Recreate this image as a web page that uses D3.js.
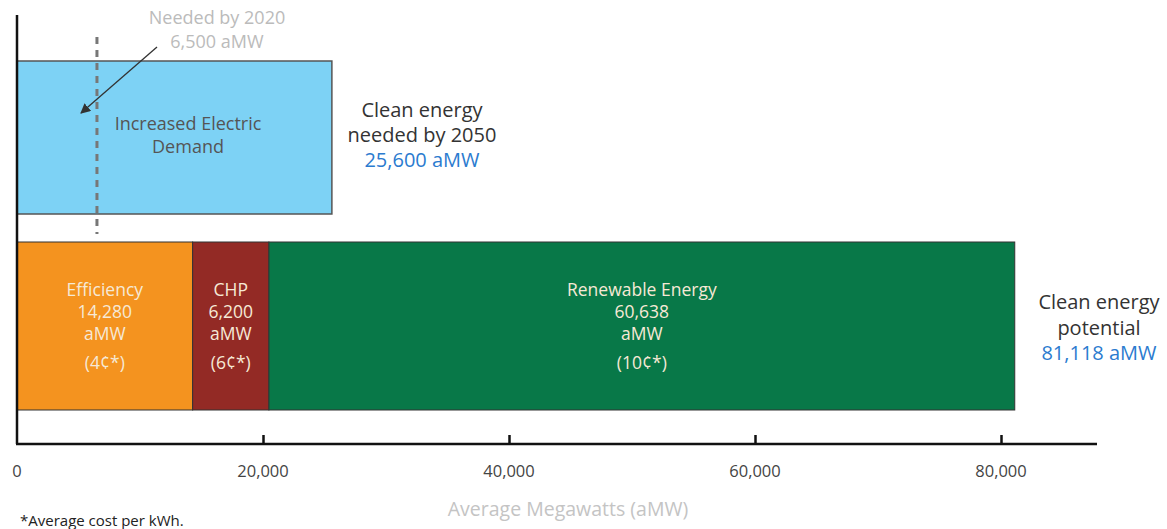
<!DOCTYPE html>
<html><head><meta charset="utf-8">
<script src="https://cdn.jsdelivr.net/npm/d3@7"></script>
<style>body{margin:0;background:#fff}svg{display:block;font-family:"Open Sans",Lato,sans-serif}</style>
</head><body><svg id="c" width="1167" height="529"></svg>
<script>
const demandValue = 25600;
const neededBy2020 = 6500;
const segments = ["Efficiency", "CHP", "Renewable Energy"];
const segmentValues = [14280, 6200, 60638];
const segmentCosts = ["(4¢*)", "(6¢*)", "(10¢*)"];
const segmentColors = ["#f4931f", "#932a25", "#087848"];
const tickValues = [20000, 40000, 60000, 80000];
const tickLabels = ["0", "20,000", "40,000", "60,000", "80,000"];
const rows = ["demand", "potential"];

const svg = d3.select("#c");
const x = d3.scaleLinear().domain([0, 80000]).range([17, 1001]);
const y = d3.scaleBand().domain(rows).range([61, 410]).paddingInner(0.17);
const fmt = d3.format(",");

// demand bar
svg.append("rect").attr("x", x(0)).attr("y", y("demand")).attr("width", x(demandValue) - x(0))
  .attr("height", 153).attr("fill", "#7dd2f5").attr("stroke", "#555").attr("stroke-width", 1.5);

// stacked potential bar
let cum = 0;
const stack = segmentValues.map((v, i) => { const s = {name: segments[i], v, x0: cum, x1: cum + v, cost: segmentCosts[i], color: segmentColors[i]}; cum += v; return s; });
const py0 = 242, ph = 410 - py0;
svg.selectAll("rect.seg").data(stack).join("rect").attr("class", "seg")
  .attr("x", d => x(d.x0)).attr("y", py0).attr("width", d => x(d.x1) - x(d.x0)).attr("height", ph)
  .attr("fill", d => d.color).attr("stroke", "#333").attr("stroke-width", 1);

const segText = svg.selectAll("g.st").data(stack).join("g").attr("class", "st")
  .attr("transform", d => `translate(${(x(d.x0) + x(d.x1)) / 2},0)`)
  .attr("fill", "#f6e9d6").attr("font-size", 17.5).attr("text-anchor", "middle");
segText.append("text").attr("y", 296).text(d => d.name);
segText.append("text").attr("y", 318).text(d => fmt(d.v));
segText.append("text").attr("y", 340).text("aMW");
segText.append("text").attr("y", 369).text(d => d.cost);

// dashed line for 2020
svg.append("line").attr("x1", x(neededBy2020)).attr("x2", x(neededBy2020)).attr("y1", 37).attr("y2", 234)
  .attr("stroke", "#777").attr("stroke-width", 3).attr("stroke-dasharray", "7,6");

// demand label
svg.append("text").attr("x", 188).attr("y", 130).attr("text-anchor", "middle").attr("fill", "#555").attr("font-size", 18).text("Increased Electric");
svg.append("text").attr("x", 188).attr("y", 153).attr("text-anchor", "middle").attr("fill", "#555").attr("font-size", 18).text("Demand");

// annotation 2020
svg.append("text").attr("x", 217).attr("y", 24).attr("text-anchor", "middle").attr("fill", "#bbb").attr("font-size", 18).text("Needed by 2020");
svg.append("text").attr("x", 217).attr("y", 48).attr("text-anchor", "middle").attr("fill", "#bbb").attr("font-size", 18).text(fmt(neededBy2020) + " aMW");
svg.append("defs").append("marker").attr("id", "ah").attr("viewBox", "0 0 10 10").attr("refX", 9).attr("refY", 5)
  .attr("markerWidth", 10).attr("markerHeight", 10).attr("markerUnits", "userSpaceOnUse").attr("orient", "auto")
  .append("path").attr("d", "M0,0 L10,5 L0,10 z").attr("fill", "#333");
svg.append("line").attr("x1", 157).attr("y1", 47).attr("x2", 81).attr("y2", 113)
  .attr("stroke", "#333").attr("stroke-width", 1.3).attr("marker-end", "url(#ah)");

// right labels
function block(cx, ys, lines, value) {
  lines.forEach((t, i) => svg.append("text").attr("x", cx).attr("y", ys[i]).attr("text-anchor", "middle").attr("fill", "#333").attr("font-size", 20).text(t));
  svg.append("text").attr("x", cx).attr("y", ys[lines.length]).attr("text-anchor", "middle").attr("fill", "#2b7bcf").attr("font-size", 20).text(fmt(value) + " aMW");
}
block(422, [117, 142, 167], ["Clean energy", "needed by 2050"], demandValue);
block(1099, [309, 335, 360], ["Clean energy", "potential"], cum);

// axes
svg.append("line").attr("x1", 17).attr("x2", 17).attr("y1", 15).attr("y2", 444).attr("stroke", "#111").attr("stroke-width", 2.5);
const ax = svg.append("g").attr("transform", "translate(0,444)")
  .call(d3.axisBottom(x).tickValues(tickValues).tickSize(-9).tickFormat(""));
ax.select(".domain").remove();
ax.selectAll(".tick line").attr("stroke", "#111").attr("stroke-width", 2.5);
svg.append("line").attr("x1", 16).attr("x2", 1097).attr("y1", 444).attr("y2", 444).attr("stroke", "#111").attr("stroke-width", 2.5);
svg.selectAll("text.tl").data([0].concat(tickValues)).join("text").attr("class", "tl")
  .attr("x", d => x(d)).attr("y", 477).attr("text-anchor", "middle").attr("fill", "#444").attr("font-size", 16.5)
  .text((d, i) => tickLabels[i]);
svg.append("text").attr("x", 568).attr("y", 516).attr("text-anchor", "middle").attr("fill", "#c4c4c4").attr("font-size", 19.5).text("Average Megawatts (aMW)");
svg.append("text").attr("x", 20).attr("y", 526).attr("fill", "#222").attr("font-size", 15).text("*Average cost per kWh.");
</script></body></html>
